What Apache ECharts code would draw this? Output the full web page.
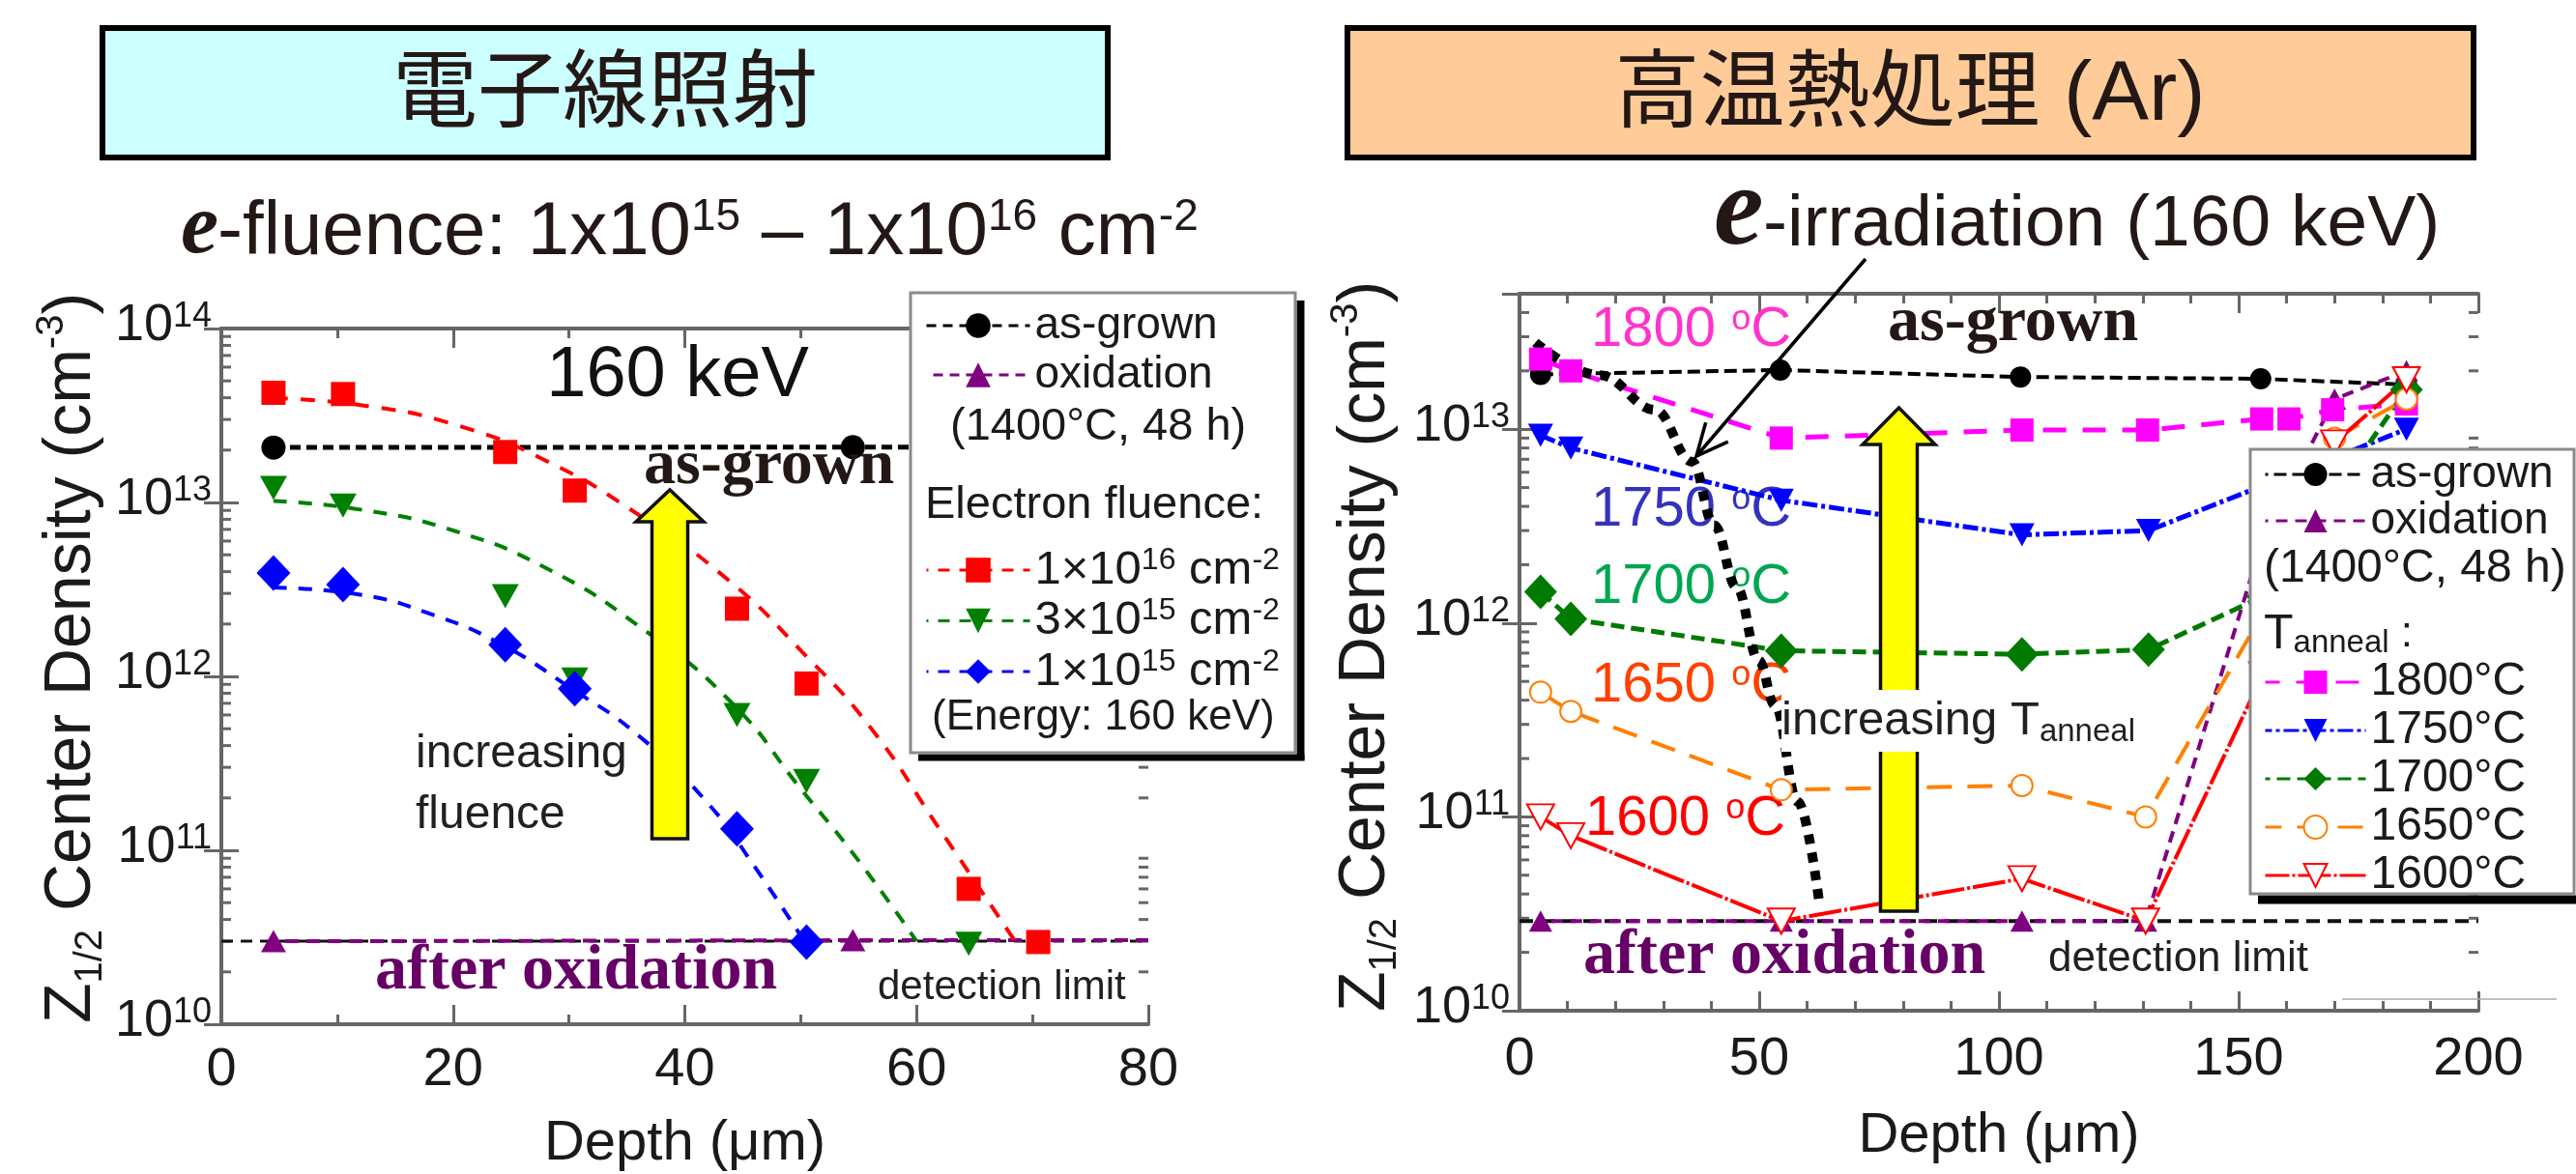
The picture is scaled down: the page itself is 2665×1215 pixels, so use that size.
<!DOCTYPE html>
<html lang="ja">
<head>
<meta charset="utf-8">
<title>Z1/2 center density depth profiles</title>
<script src="https://cdn.jsdelivr.net/npm/echarts@6/dist/echarts.min.js"></script>
<style>
  html, body { margin: 0; padding: 0; background: #fff; }
  #chart { width: 2665px; height: 1215px; }
</style>
</head>
<body>
<div id="chart"></div>
<script>
const SANS = '"Liberation Sans", Arial, Helvetica, sans-serif';
const SERIF = '"Liberation Serif", "Times New Roman", serif';
const CJK = '"Liberation Sans", "Noto Sans CJK JP", sans-serif';
const INK = '#1a1a1a';
const FRAME = '#666666';

// ---- axis ranges and tick layout ----
const irrDepthRange = [0, 80];
const irrDepthStep = 20;
const irrZRange = [1e10, 1e14];
const annDepthRange = [0, 200];
const annDepthStep = 50;
const annZRange = [1e10, 5e13];
const decadeMultipliers = [2, 3, 4, 5, 6, 7, 8, 9];

// ---- electron irradiation (160 keV): measured Z1/2 density vs depth (µm, cm^-3) ----
const irrDepth = [4.5, 10.5, 24.5, 30.5, 44.5, 50.5, 64.5, 70.5];
const irr1e16 = [4.27e13, 4.2e13, 1.95e13, 1.17e13, 2.45e12, 9.1e11, 6.0e10, 2.97e10];
const irr3e15 = [1.21e13, 9.6e12, 2.89e12, 9.6e11, 6.0e11, 2.5e11, 2.9e10];
const irr1e15 = [3.93e12, 3.37e12, 1.52e12, 8.5e11, 1.33e11, 2.97e10];
const irrRefDepth = [4.5, 54.5];
const irrAsGrown = [2.07e13, 2.08e13];
const irrOxidation = [3.0e10, 3.04e10];
const irrDetectionLimit = 3.0e10;

// fitted profiles drawn through the irradiation data
const fit1e16Depth = [4.5, 12, 20, 28, 36, 44, 50, 56, 62, 68.5];
const fit1e16 = [3.98e13, 3.63e13, 2.82e13, 1.74e13, 8.5e12, 3.47e12, 1.41e12, 5.1e11, 1.32e11, 3.0e10];
const fit3e15Depth = [4.5, 12, 20, 28, 36, 44, 50, 55, 60];
const fit3e15 = [1.02e13, 9.1e12, 6.9e12, 4.2e12, 1.95e12, 7.1e11, 2.26e11, 8.7e10, 3.0e10];
const fit1e15Depth = [4.5, 12, 18, 24, 30, 36, 42, 46, 50.3];
const fit1e15 = [3.24e12, 2.95e12, 2.29e12, 1.55e12, 8.7e11, 4.57e11, 1.86e11, 8.1e10, 3.0e10];

// ---- high-temperature Ar anneal after irradiation ----
const annAsGrownDepth = [4.4, 54.4, 104.5, 154.6, 185];
const annAsGrown = [1.92e13, 2.02e13, 1.86e13, 1.82e13, 1.7e13];
const annOxDepth = [4.4, 54.6, 104.8, 130.6, 155, 170, 185];
const annOx = [2.9e10, 2.9e10, 2.9e10, 2.9e10, 2.7e12, 1.43e13, 2.0e13];
const ann1800Depth = [4.4, 10.7, 54.6, 104.8, 131.0, 154.8, 160.5, 169.6, 185];
const ann1800 = [2.3e13, 2.0e13, 9.0e12, 9.9e12, 9.9e12, 1.13e13, 1.13e13, 1.26e13, 1.35e13];
const ann1750Depth = [4.4, 10.7, 54.6, 104.8, 131.2, 185];
const ann1750 = [9.3e12, 8.0e12, 4.3e12, 2.85e12, 3.0e12, 1.0e13];
const ann1700Depth = [4.4, 10.7, 54.6, 104.8, 131.2, 155, 185];
const ann1700 = [1.45e12, 1.05e12, 7.2e11, 6.9e11, 7.3e11, 1.37e12, 1.6e13];
const ann1650Depth = [4.4, 10.7, 54.6, 104.8, 130.6, 155, 170, 185];
const ann1650 = [4.4e11, 3.5e11, 1.38e11, 1.45e11, 1.0e11, 1.12e12, 9.0e12, 1.43e13];
const ann1600Depth = [4.4, 10.7, 54.6, 104.8, 130.6, 155, 170, 185];
const ann1600 = [1.0e11, 8.0e10, 2.9e10, 4.8e10, 2.9e10, 5.4e11, 8.5e12, 1.8e13];
const annDetectionLimit = 2.9e10;
// irradiated-layer depth guide (dotted)
const guideDepth = [3.3, 16.8, 28.3, 36.0, 40.6, 45.3, 49.9, 53.3, 58.0, 62.6];
const guideZ = [2.8e13, 1.9e13, 1.26e13, 6.8e12, 3.2e12, 1.53e12, 6.4e11, 3.76e11, 1.2e11, 3.5e10];

const pairs = (xs, ys) => ys.map((y, i) => [xs[i], y]);
// carry the last level on to the frame edge without a marker
const extendTo = (pts, x) => pts.concat([{ value: [x, pts[pts.length - 1][1]], symbol: 'none' }]);

const grids = [
  { left: 229, top: 340, width: 959, height: 720 },
  { left: 1572, top: 304, width: 992, height: 742 }
].map(g => Object.assign({ show: false, containLabel: false, outerBoundsMode: 'none' }, g));

const tickStyle = { color: FRAME, width: 3 };

function depthAxis(grid, range, step, minorSplit, position, labelMargin, nameGap) {
  const labeled = position === 'bottom';
  return {
    type: 'value', gridIndex: grid, position, min: range[0], max: range[1], interval: step,
    axisLine: { show: true, onZero: false, lineStyle: { color: FRAME, width: 4 } },
    axisTick: { show: true, inside: true, length: 20, lineStyle: tickStyle },
    minorTick: { show: true, splitNumber: minorSplit, length: 10, lineStyle: tickStyle },
    splitLine: { show: false }, minorSplitLine: { show: false },
    axisLabel: labeled
      ? { show: true, margin: labelMargin, fontSize: 56, lineHeight: 56, fontFamily: SANS, color: INK }
      : { show: false },
    name: labeled ? 'Depth (μm)' : '',
    nameLocation: 'middle', nameGap,
    nameTextStyle: { fontSize: 58, lineHeight: 58, fontFamily: SANS, color: INK }
  };
}

const decadeLabel = v => {
  const e = Math.log10(v), r = Math.round(e);
  return Math.abs(e - r) < 1e-6 ? '{b|10}{s|' + r + '}' : '';
};
const densityName = '{t|Z}{sub|1/2}{t| Center Density (cm}{sup|-3}{t|)}';

function densityAxis(grid, range, position, nameGap, namePad) {
  const labeled = position === 'left';
  return {
    type: 'log', logBase: 10, gridIndex: grid, position, min: range[0], max: range[1],
    axisLine: { show: true, lineStyle: { color: FRAME, width: 4 } },
    axisTick: { show: true, inside: true, length: 18, lineStyle: tickStyle },
    minorTick: { show: false }, splitLine: { show: false },
    axisLabel: labeled ? {
      show: true, margin: 10, formatter: decadeLabel, padding: [0, 0, 6, 0],
      rich: {
        b: { fontSize: 54, lineHeight: 54, fontFamily: SANS, color: INK },
        s: { fontSize: 36, lineHeight: 16, verticalAlign: 'top', fontFamily: SANS, color: INK }
      }
    } : { show: false },
    name: labeled ? densityName : '',
    nameLocation: 'middle', nameRotate: 90, nameGap,
    nameTextStyle: {
      padding: [0, 0, 0, namePad],
      rich: {
        t: { fontSize: 68, lineHeight: 80, fontFamily: SANS, color: INK },
        sub: { fontSize: 40, lineHeight: 40, verticalAlign: 'bottom', fontFamily: SANS, color: INK },
        sup: { fontSize: 40, lineHeight: 40, verticalAlign: 'top', fontFamily: SANS, color: INK }
      }
    }
  };
}

// minor decade ticks (2..9 x 10^n) on both vertical frame edges
function minorTickSeries(grid, range) {
  const values = [];
  for (let d = range[0]; d < range[1]; d *= 10) {
    decadeMultipliers.forEach(m => { if (m * d < range[1] * 0.999) values.push([0, m * d]); });
  }
  return {
    type: 'custom', xAxisIndex: grid * 2, yAxisIndex: grid * 2, data: values, silent: true, z: 2,
    renderItem(params, api) {
      const cs = params.coordSys;
      const y = api.coord([api.value(0), api.value(1)])[1];
      const st = { stroke: FRAME, lineWidth: 3 };
      return { type: 'group', children: [
        { type: 'line', shape: { x1: cs.x, y1: y, x2: cs.x + 10, y2: y }, style: st },
        { type: 'line', shape: { x1: cs.x + cs.width, y1: y, x2: cs.x + cs.width - 10, y2: y }, style: st }
      ] };
    }
  };
}

function profile(name, grid, pts, opt) {
  return Object.assign({
    type: 'line', name, xAxisIndex: grid * 2, yAxisIndex: grid * 2, data: pts,
    symbol: 'none', silent: true, emphasis: { disabled: true }, clip: true
  }, opt);
}
const noLine = { opacity: 0, width: 1 };

const series = [
  minorTickSeries(0, irrZRange),
  minorTickSeries(1, annZRange),

  // ----- electron irradiation panel -----
  profile('detection limit · irr', 0,
    [[irrDepthRange[0], irrDetectionLimit], [irrDepthRange[1], irrDetectionLimit]],
    { lineStyle: { color: '#111', width: 3, type: [12, 8] } }),
  profile('oxidation · irr', 0, extendTo(pairs(irrRefDepth, irrOxidation), irrDepthRange[1]),
    { symbol: 'triangle', symbolSize: [26, 23], itemStyle: { color: '#800080' },
      lineStyle: { color: '#800080', width: 4, type: [14, 8], dashOffset: 10 } }),
  profile('as-grown · irr', 0, extendTo(pairs(irrRefDepth, irrAsGrown), irrDepthRange[1]),
    { symbol: 'circle', symbolSize: 25, itemStyle: { color: '#000' },
      lineStyle: { color: '#000', width: 5, type: [11, 6] } }),
  profile('fit 1e16', 0, pairs(fit1e16Depth, fit1e16),
    { smooth: 0.5, lineStyle: { color: '#ff0000', width: 4, type: [15, 13] } }),
  profile('fit 3e15', 0, pairs(fit3e15Depth, fit3e15),
    { smooth: 0.5, lineStyle: { color: '#008000', width: 4, type: [14, 12] } }),
  profile('fit 1e15', 0, pairs(fit1e15Depth, fit1e15),
    { smooth: 0.5, lineStyle: { color: '#0000ff', width: 4, type: [14, 12] } }),
  profile('1e16', 0, pairs(irrDepth, irr1e16),
    { symbol: 'rect', symbolSize: 25, itemStyle: { color: '#ff0000' }, lineStyle: noLine }),
  profile('3e15', 0, pairs(irrDepth, irr3e15),
    { symbol: 'triangle', symbolRotate: 180, symbolSize: [28, 25], itemStyle: { color: '#008000' }, lineStyle: noLine }),
  profile('1e15', 0, pairs(irrDepth, irr1e15),
    { symbol: 'diamond', symbolSize: [35, 37], itemStyle: { color: '#0000ff' }, lineStyle: noLine }),

  // ----- anneal panel -----
  profile('detection limit · anneal', 1,
    [[annDepthRange[0], annDetectionLimit], [annDepthRange[1], annDetectionLimit]],
    { lineStyle: { color: '#111', width: 4, type: [14, 8] } }),
  profile('as-grown · anneal', 1, pairs(annAsGrownDepth, annAsGrown),
    { symbol: 'circle', symbolSize: 22, itemStyle: { color: '#000' },
      lineStyle: { color: '#000', width: 4, type: [13, 6] } }),
  profile('oxidation · anneal', 1, pairs(annOxDepth, annOx),
    { symbol: 'triangle', symbolSize: [24, 22], itemStyle: { color: '#800080' },
      lineStyle: { color: '#800080', width: 4, type: [12, 8], dashOffset: 9 } }),
  profile('1800', 1, pairs(ann1800Depth, ann1800),
    { symbol: 'rect', symbolSize: 24, itemStyle: { color: '#ff00ff' },
      lineStyle: { color: '#ff00ff', width: 5, type: [24, 17] } }),
  profile('1750', 1, pairs(ann1750Depth, ann1750),
    { symbol: 'triangle', symbolRotate: 180, symbolSize: [26, 24], itemStyle: { color: '#0000ff' },
      lineStyle: { color: '#0000ff', width: 5, type: [16, 4, 4, 4] } }),
  profile('1700', 1, pairs(ann1700Depth, ann1700),
    { symbol: 'diamond', symbolSize: [34, 36], itemStyle: { color: '#007a00' },
      lineStyle: { color: '#007a00', width: 5, type: [14, 7] } }),
  profile('1650', 1, pairs(ann1650Depth, ann1650),
    { symbol: 'emptyCircle', symbolSize: 22, itemStyle: { color: '#ff8000', borderWidth: 3 },
      lineStyle: { color: '#ff8000', width: 4, type: [26, 16] } }),
  profile('1600', 1, pairs(ann1600Depth, ann1600),
    { symbol: 'emptyTriangle', symbolRotate: 180, symbolSize: [28, 26], itemStyle: { color: '#ff0000', borderWidth: 3 },
      lineStyle: { color: '#ff0000', width: 4, type: [34, 3, 3, 3] } }),
  profile('irradiated layer', 1, pairs(guideDepth, guideZ),
    { smooth: 0.4, smoothMonotone: 'x', lineStyle: { color: '#000', width: 10, type: [10, 9], cap: 'butt' } })
];

const legendLabels = {
  'as-grown · irr': 'as-grown', 'oxidation · irr': 'oxidation',
  '1e16': '{n|1×10}{s|16}{n| cm}{s|-2}',
  '3e15': '{n|3×10}{s|15}{n| cm}{s|-2}',
  '1e15': '{n|1×10}{s|15}{n| cm}{s|-2}',
  'as-grown · anneal': 'as-grown', 'oxidation · anneal': 'oxidation',
  '1800': '1800°C', '1750': '1750°C', '1700': '1700°C', '1650': '1650°C', '1600': '1600°C'
};
const legendBase = {
  orient: 'vertical', padding: 0, selectedMode: false, z: 6,
  formatter: n => legendLabels[n]
};
const plainLegendText = { fontSize: 46, lineHeight: 46, fontFamily: SANS, color: INK };
const legends = [
  Object.assign({}, legendBase, {
    left: 957, top: 314, itemWidth: 107, itemHeight: 32, itemGap: 5, textStyle: plainLegendText,
    data: [
      { name: 'as-grown · irr', lineStyle: { width: 3, type: [10, 7], color: '#000', opacity: 1 } },
      { name: 'oxidation · irr', lineStyle: { width: 3, type: [10, 7], color: '#800080', opacity: 1 } }
    ]
  }),
  Object.assign({}, legendBase, {
    left: 957, top: 564, itemWidth: 107, itemHeight: 32, itemGap: 0.5,
    textStyle: {
      fontSize: 49, lineHeight: 52, fontFamily: SANS, color: INK,
      rich: {
        n: { fontSize: 49, lineHeight: 52, fontFamily: SANS, color: INK },
        s: { fontSize: 32, lineHeight: 16, verticalAlign: 'top', fontFamily: SANS, color: INK }
      }
    },
    data: [
      { name: '1e16', lineStyle: { width: 3, type: [12, 10], color: '#ff0000', opacity: 1 } },
      { name: '3e15', lineStyle: { width: 3, type: [12, 10], color: '#008000', opacity: 1 } },
      { name: '1e15', lineStyle: { width: 3, type: [12, 10], color: '#0000ff', opacity: 1 } }
    ]
  }),
  Object.assign({}, legendBase, {
    left: 2342, top: 468, itemWidth: 104, itemHeight: 30, itemGap: 2, textStyle: plainLegendText,
    data: [
      { name: 'as-grown · anneal', lineStyle: { width: 3 } },
      { name: 'oxidation · anneal', lineStyle: { width: 3 } }
    ]
  }),
  Object.assign({}, legendBase, {
    left: 2342, top: 682, itemWidth: 104, itemHeight: 30, itemGap: 2,
    textStyle: Object.assign({}, plainLegendText, { fontSize: 48 }),
    data: ['1800', '1750', '1700', '1650', '1600'].map(n => ({ name: n, lineStyle: { width: 3 } }))
  })
];

// ---- annotations ----
const graphics = [];
function addText(x, y, text, style, z) {
  graphics.push({
    type: 'text', x, y, z: z == null ? 7 : z, silent: true,
    style: Object.assign({ text, fill: INK, fontFamily: SANS, fontSize: 46, verticalAlign: 'middle', align: 'left' }, style)
  });
}
function addRect(x, y, w, h, style, z) {
  graphics.push({ type: 'rect', z: z == null ? 5 : z, silent: true, shape: { x, y, width: w, height: h }, style });
}
function addArrow(tip, headBaseY, headHalf, shaftHalf, bottomY) {
  const [tx, ty] = tip;
  graphics.push({
    type: 'polygon', z: 5, silent: true,
    shape: { points: [
      [tx - shaftHalf, bottomY], [tx - shaftHalf, headBaseY], [tx - headHalf, headBaseY], [tx, ty],
      [tx + headHalf, headBaseY], [tx + shaftHalf, headBaseY], [tx + shaftHalf, bottomY]
    ] },
    style: { fill: '#ffff00', stroke: '#111', lineWidth: 3.5, lineJoin: 'miter' }
  });
}

// title banners
addRect(106, 29, 1040, 134, { fill: '#ccffff', stroke: '#000', lineWidth: 6 }, 1);
addText(626, 100, '電子線照射', { fontFamily: CJK, fontSize: 88, align: 'center', fill: '#231815' }, 2);
addRect(1394, 29, 1165, 134, { fill: '#ffcc99', stroke: '#000', lineWidth: 6 }, 1);
addText(1976, 100, '高温熱処理 (Ar)', { fontFamily: CJK, fontSize: 88, align: 'center', fill: '#231815' }, 2);

// panel subtitles
addText(187, 238, 'e', { fontFamily: SERIF, fontWeight: 'bold', fontStyle: 'italic', fontSize: 88, fill: '#231815' }, 2);
addText(225, 241, '{t|-fluence: 1x10}{s|15}{t| – 1x10}{s|16}{t| cm}{s|-2}', {
  fill: '#231815',
  rich: { t: { fontSize: 78, lineHeight: 78, fontFamily: SANS }, s: { fontSize: 46, lineHeight: 46, verticalAlign: 'top', fontFamily: SANS } }
}, 2);
addText(1773, 222, 'e', { fontFamily: SERIF, fontWeight: 'bold', fontStyle: 'italic', fontSize: 116, fill: '#231815' }, 2);
addText(1824, 233, '-irradiation (160 keV)', { fontSize: 75, fill: '#231815' }, 2);

// irradiation panel annotations
addArrow([693, 507], 540, 35, 18.5, 868);
addText(701, 390, '160 keV', { fontSize: 74, align: 'center', fill: '#111' });
addText(666, 483, 'as-grown', { fontFamily: SERIF, fontWeight: 'bold', fontSize: 66, fill: '#231815' });
addText(430, 812, 'increasing\nfluence', { fontSize: 48, lineHeight: 63, fill: '#231f20' });
addText(388, 1006, 'after oxidation', { fontFamily: SERIF, fontWeight: 'bold', fontSize: 66, fill: '#660066' });
addText(908, 1022, 'detection limit', { fontSize: 42, fill: '#231f20' });

// irradiation panel legend frame and headings
addRect(1341.5, 311, 8, 476, { fill: '#000' });
addRect(950, 780.5, 399.5, 7, { fill: '#000' });
addRect(942, 303, 398, 476, { fill: '#fff', stroke: '#8a8a8a', lineWidth: 3 });
addText(983, 442, '(1400°C, 48 h)', { fontSize: 47 });
addText(957, 523, 'Electron fluence:', { fontSize: 47 });
addText(964, 743, '(Energy: 160 keV)', { fontSize: 44 });

// anneal panel annotations
addArrow([1964.5, 422], 460, 37.5, 19, 943);
const degLabel = (t, color) => ({
  fill: color,
  rich: { n: { fontSize: 58, lineHeight: 58, fontFamily: SANS }, o: { fontSize: 36, lineHeight: 34, verticalAlign: 'top', fontFamily: SANS } },
  text: '{n|' + t + ' }{o|o}{n|C}'
});
addText(1646, 342, '', degLabel('1800', '#ff33cc'), 3);
addText(1646, 528, '', degLabel('1750', '#3333bb'), 3);
addText(1646, 608, '', degLabel('1700', '#00a651'), 3);
addText(1646, 710, '', degLabel('1650', '#ff4000'), 3);
addText(1640, 848, '', degLabel('1600', '#ff0000'), 3);
addText(1953, 335, 'as-grown', { fontFamily: SERIF, fontWeight: 'bold', fontSize: 66, fill: '#231815' });
addText(1638, 990, 'after oxidation', { fontFamily: SERIF, fontWeight: 'bold', fontSize: 66, fill: '#660066' });
addText(2119, 993, 'detection limit', { fontSize: 44, fill: '#231f20' });
addText(1843, 746, '{a|increasing T}{b|anneal}', {
  fill: '#231f20', backgroundColor: '#fff', padding: [4, 6, 4, 0],
  rich: { a: { fontSize: 49, lineHeight: 56, fontFamily: SANS }, b: { fontSize: 33, lineHeight: 21, verticalAlign: 'bottom', fontFamily: SANS } }
}, 6);

// pointer from the irradiation label to the guide curve
const ptrFrom = [1930, 268], ptrTo = [1755, 472];
const ptrAng = Math.atan2(ptrFrom[1] - ptrTo[1], ptrFrom[0] - ptrTo[0]);
const armLen = 36, armSpread = 25 * Math.PI / 180;
graphics.push({ type: 'line', z: 6, silent: true,
  shape: { x1: ptrFrom[0], y1: ptrFrom[1], x2: ptrTo[0], y2: ptrTo[1] },
  style: { stroke: '#000', lineWidth: 3.5 } });
graphics.push({ type: 'polyline', z: 6, silent: true,
  shape: { points: [
    [ptrTo[0] + armLen * Math.cos(ptrAng + armSpread), ptrTo[1] + armLen * Math.sin(ptrAng + armSpread)],
    ptrTo,
    [ptrTo[0] + armLen * Math.cos(ptrAng - armSpread), ptrTo[1] + armLen * Math.sin(ptrAng - armSpread)]
  ] },
  style: { stroke: '#000', lineWidth: 3.5, fill: null } });

// anneal panel legend frame and headings
addRect(2336, 926.5, 329, 9, { fill: '#000' });
addRect(2328, 465, 335, 460, { fill: '#fff', stroke: '#8a8a8a', lineWidth: 3 });
addText(2342, 589, '(1400°C, 48 h)', { fontSize: 48 });
addText(2342, 657, '{T|T}{a|anneal}{c| :}', {
  rich: {
    T: { fontSize: 50, lineHeight: 50, fontFamily: SANS },
    a: { fontSize: 33, lineHeight: 15, verticalAlign: 'bottom', fontFamily: SANS },
    c: { fontSize: 44, lineHeight: 50, fontFamily: SANS }
  }
});
graphics.push({ type: 'line', z: 5, silent: true,
  shape: { x1: 2423, y1: 1034, x2: 2645, y2: 1034 }, style: { stroke: '#aaaaaa', lineWidth: 1.5 } });

const chart = echarts.init(document.getElementById('chart'), null, { renderer: 'canvas', width: 2665, height: 1215 });
chart.setOption({
  animation: false,
  backgroundColor: '#ffffff',
  grid: grids,
  xAxis: [
    depthAxis(0, irrDepthRange, irrDepthStep, 2, 'bottom', 20, 95),
    depthAxis(0, irrDepthRange, irrDepthStep, 2, 'top', 0, 0),
    depthAxis(1, annDepthRange, annDepthStep, 5, 'bottom', 23, 101),
    depthAxis(1, annDepthRange, annDepthStep, 5, 'top', 0, 0)
  ],
  yAxis: [
    densityAxis(0, irrZRange, 'left', 115, 38),
    densityAxis(0, irrZRange, 'right', 0, 0),
    densityAxis(1, annZRange, 'left', 119, 12),
    densityAxis(1, annZRange, 'right', 0, 0)
  ],
  legend: legends,
  series,
  graphic: { elements: graphics }
});
</script>
</body>
</html>
